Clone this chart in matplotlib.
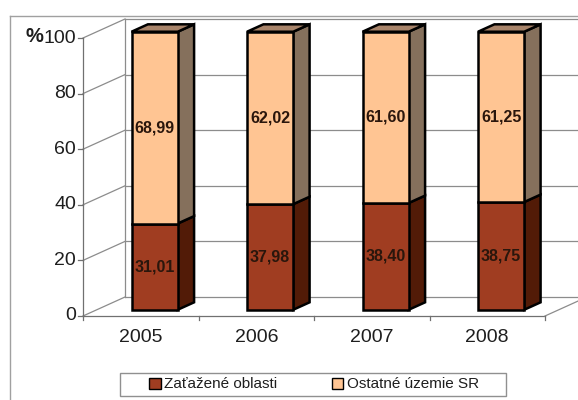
import matplotlib
matplotlib.use("Agg")
import matplotlib.pyplot as plt
from matplotlib.patches import Polygon, Patch, Rectangle
from matplotlib.lines import Line2D

plt.rcParams['font.family'] = ['Liberation Sans', 'DejaVu Sans']

# data
years = ['2005', '2006', '2007', '2008']
zatazene = [31.01, 37.98, 38.40, 38.75]
ostatne = [68.99, 62.02, 61.60, 61.25]
series_names = ['Zaťažené oblasti', 'Ostatné územie SR']
y_ticks = [0, 20, 40, 60, 80, 100]

# colours
dark_front, dark_side = '#a03d21', '#521b07'
light_front, light_side, light_top = '#ffc593', '#85705c', '#a8846a'
grid_col = '#8c8c8c'
text_col = '#1e1e1e'

W, H = 578, 400
fig = plt.figure(figsize=(W / 100, H / 100), dpi=100)

# front plane of the plot box (pixels)
x0p, x1p, y0p, y1p = 83, 545, 316, 38
ax = fig.add_axes([x0p / W, 1 - y0p / H, (x1p - x0p) / W, (y0p - y1p) / H])
ax.set_xlim(-0.5, len(years) - 0.5)
ax.set_ylim(0, 100)
for s in ax.spines.values():
    s.set_visible(False)
ax.patch.set_alpha(0)

sx = (x1p - x0p) / 4.0          # px per category
sy = (y0p - y1p) / 100.0        # px per percent
DX, DY = 42 / sx, 19 / sy       # depth offset of the back wall
xmin, xmax = -0.5, len(years) - 0.5

def ln(xs, ys, **kw):
    kw.setdefault('color', grid_col)
    kw.setdefault('lw', 0.9)
    ax.add_line(Line2D(xs, ys, clip_on=False, zorder=kw.pop('z', 1), **kw))

# walls and gridlines
for v in y_ticks:
    ln([xmin, xmin + DX], [v, v + DY])
    ln([xmin + DX, xmax + DX], [v + DY, v + DY])
ln([xmin + DX, xmin + DX], [DY, 100 + DY])
ln([xmin, xmin], [0, 100], color='#707070')
ln([xmin, xmax], [0, 0], color='#707070')
ln([xmax, xmax + DX], [0, DY])

# ticks
for v in y_ticks:
    ln([xmin - 5 / sx, xmin], [v, v], color='#707070')
    ax.text(xmin - 7 / sx, v, str(v), ha='right', va='center', fontsize=14, color=text_col)
for i in range(len(years) + 1):
    ln([xmin + i, xmin + i], [0, -4 / sy], color='#707070')
for i, yr in enumerate(years):
    ax.text(i, -21 / sy, yr, ha='center', va='center', fontsize=14, color=text_col)
ax.set_xticks([])
ax.set_yticks([])
ax.text(xmin - 58 / sx, 100 + 1.5 / sy, '%', ha='left', va='center', fontsize=14.5,
        fontweight='bold', color=text_col)

# 3D stacked bars
f0, f1 = 0.33, 0.72
bw = 0.4
ox0, oy0 = f0 * DX, f0 * DY
ox1, oy1 = f1 * DX, f1 * DY

def box(xc, b, t, front, side, top=None):
    xl = xc - bw / 2 + ox0
    xr = xc + bw / 2 + ox0
    yb, yt = b + oy0, t + oy0
    dx, dy = ox1 - ox0, oy1 - oy0
    kw = dict(edgecolor='black', lw=1.8, clip_on=False, zorder=5, joinstyle='miter')
    ax.add_patch(Polygon([(xr, yb), (xr + dx, yb + dy), (xr + dx, yt + dy), (xr, yt)], closed=True, facecolor=side, **kw))
    ax.add_patch(Polygon([(xl, yb), (xr, yb), (xr, yt), (xl, yt)], closed=True, facecolor=front, **kw))
    if top is not None:
        ax.add_patch(Polygon([(xl, yt), (xr, yt), (xr + dx, yt + dy), (xl + dx, yt + dy)], closed=True, facecolor=top, **kw))
    return (xl + xr) / 2, (yb + yt) / 2

for i in range(len(years)):
    a, b = zatazene[i], ostatne[i]
    cx, cy = box(i, 0, a, dark_front, dark_side)
    ax.text(cx, cy, f'{a:.2f}'.replace('.', ','), ha='center', va='center', fontsize=11.5,
            fontweight='bold', color='#2a160c', zorder=6)
    cx, cy = box(i, a, a + b, light_front, light_side, light_top)
    ax.text(cx, cy, f'{b:.2f}'.replace('.', ','), ha='center', va='center', fontsize=11.5,
            fontweight='bold', color='#2a160c', zorder=6)

# outer chart border
fig.add_artist(Line2D([10 / W, 1], [1 - 16 / H, 1 - 16 / H], transform=fig.transFigure, color='#a0a0a0', lw=1))
fig.add_artist(Line2D([10 / W, 10 / W], [1 - 16 / H, 0], transform=fig.transFigure, color='#a0a0a0', lw=1))

# legend
fig.add_artist(Rectangle((120 / W, 1 - 396 / H), 386 / W, 23 / H, transform=fig.transFigure,
                         facecolor='white', edgecolor='#909090', lw=1))
handles = [Patch(facecolor=dark_front, edgecolor='black', lw=1),
           Patch(facecolor=light_front, edgecolor='black', lw=1)]
fig.legend(handles, series_names, loc='center', bbox_to_anchor=(314 / W, 1 - 384.5 / H),
           ncol=2, frameon=False, fontsize=11, handlelength=0.75, handleheight=0.75,
           handletextpad=0.2, columnspacing=3.6, borderpad=0, labelcolor=text_col)

fig.savefig('out.png', dpi=100)
